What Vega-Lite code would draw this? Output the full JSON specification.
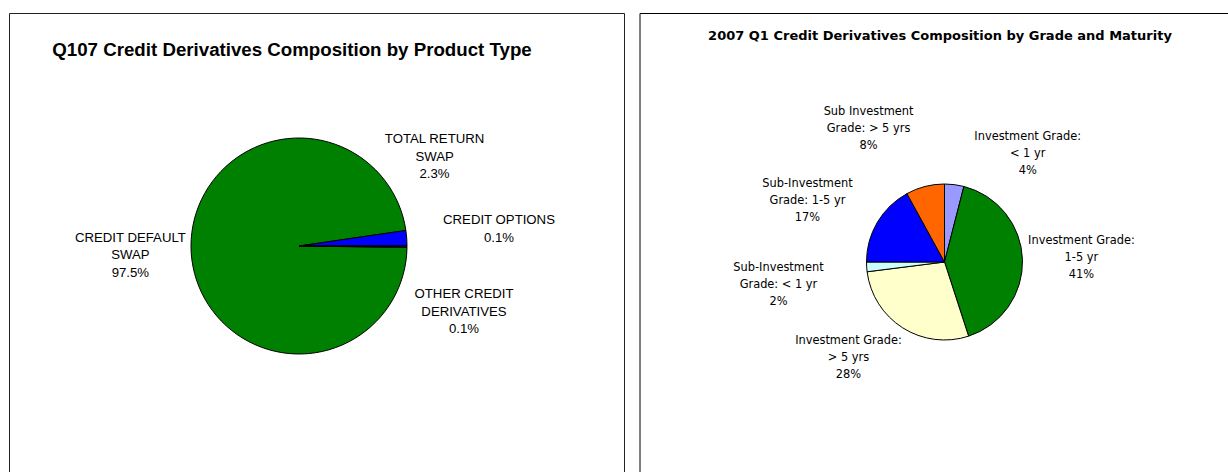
{
  "$schema": "https://vega.github.io/schema/vega-lite/v6.json",
  "background": "white",
  "padding": {"left": 8, "top": 12, "right": 0, "bottom": 0},
  "autosize": {"type": "pad"},
  "spacing": 13.5,
  "resolve": {"scale": {"color": "independent", "theta": "independent"}},
  "config": {
    "view": {"stroke": "#1a1a1a", "strokeWidth": 1},
    "title": {"color": "black"}
  },
  "hconcat": [
    {
      "width": 615,
      "height": 470,
      "view": {"stroke": "#222222", "strokeWidth": 1, "fill": "white"},
      "title": {
        "text": "Q107 Credit Derivatives Composition by Product Type",
        "font": "Liberation Sans",
        "fontWeight": "bold",
        "fontSize": 18.7,
        "anchor": "middle",
        "frame": "group",
        "baseline": "middle",
        "offset": -55.5,
        "dx": -24.5
      },
      "data": {
        "values": [
          {"idx": 1, "type": "CREDIT DEFAULT SWAP", "share": 97.5, "label": "CREDIT DEFAULT\nSWAP\n97.5%"},
          {"idx": 2, "type": "TOTAL RETURN SWAP", "share": 2.3, "label": "TOTAL RETURN\nSWAP\n2.3%"},
          {"idx": 3, "type": "CREDIT OPTIONS", "share": 0.1, "label": "CREDIT OPTIONS\n0.1%"},
          {"idx": 4, "type": "OTHER CREDIT DERIVATIVES", "share": 0.1, "label": "OTHER CREDIT\nDERIVATIVES\n0.1%"}
        ]
      },
      "encoding": {
        "theta": {"field": "share", "type": "quantitative", "stack": true, "scale": {"range": [1.5834, 7.8666]}},
        "order": {"field": "idx", "type": "quantitative"},
        "color": {
          "field": "type",
          "type": "nominal",
          "legend": null,
          "scale": {
            "domain": ["CREDIT DEFAULT SWAP", "TOTAL RETURN SWAP", "CREDIT OPTIONS", "OTHER CREDIT DERIVATIVES"],
            "range": ["#008000", "#0000ff", "#993366", "#ffffcc"]
          }
        }
      },
      "layer": [
        {
          "mark": {"type": "arc", "outerRadius": 108, "stroke": "black", "strokeWidth": 1, "x": 290, "y": 233}
        },
        {
          "mark": {
            "type": "text",
            "x": 290,
            "y": 233,
            "radius": 169,
            "dx": {"expr": "datum.idx == 2 ? -33 : datum.idx == 3 ? 31 : datum.idx == 4 ? -4 : 0"},
            "dy": {"expr": "datum.idx == 1 ? -19.5 : datum.idx == 2 ? -94.5 : datum.idx == 3 ? -26.3 : datum.idx == 4 ? 46.5 : 0"},
            "lineBreak": "\n",
            "lineHeight": 17.5,
            "font": "Liberation Sans",
            "fontSize": 13.2,
            "align": "center",
            "baseline": "middle"
          },
          "encoding": {
            "text": {"field": "label", "type": "nominal"},
            "color": {"value": "black"},
            "detail": {"field": "type", "type": "nominal"}
          }
        }
      ]
    },
    {
      "width": 610,
      "height": 470,
      "view": {"stroke": "#000000", "strokeWidth": 1, "fill": "white"},
      "title": {
        "text": "2007 Q1 Credit Derivatives Composition by Grade and Maturity",
        "font": "DejaVu Sans",
        "fontWeight": "bold",
        "fontSize": 13,
        "anchor": "middle",
        "frame": "group",
        "baseline": "middle",
        "offset": -35.5,
        "dx": -4.5
      },
      "data": {
        "values": [
          {"idx": 1, "type": "Investment Grade: < 1 yr", "share": 4, "label": "Investment Grade:\n< 1 yr\n4%"},
          {"idx": 2, "type": "Investment Grade: 1-5 yr", "share": 41, "label": "Investment Grade:\n1-5 yr\n41%"},
          {"idx": 3, "type": "Investment Grade: > 5 yrs", "share": 28, "label": "Investment Grade:\n> 5 yrs\n28%"},
          {"idx": 4, "type": "Sub-Investment Grade: < 1 yr", "share": 2, "label": "Sub-Investment\nGrade: < 1 yr\n2%"},
          {"idx": 5, "type": "Sub-Investment Grade: 1-5 yr", "share": 17, "label": "Sub-Investment\nGrade: 1-5 yr\n17%"},
          {"idx": 6, "type": "Sub Investment Grade: > 5 yrs", "share": 8, "label": "Sub Investment\nGrade: > 5 yrs\n8%"}
        ]
      },
      "encoding": {
        "theta": {"field": "share", "type": "quantitative", "stack": true, "scale": {"range": [0, 6.2832]}},
        "order": {"field": "idx", "type": "quantitative"},
        "color": {
          "field": "type",
          "type": "nominal",
          "legend": null,
          "scale": {
            "domain": ["Investment Grade: < 1 yr", "Investment Grade: 1-5 yr", "Investment Grade: > 5 yrs", "Sub-Investment Grade: < 1 yr", "Sub-Investment Grade: 1-5 yr", "Sub Investment Grade: > 5 yrs"],
            "range": ["#9999ff", "#008000", "#ffffcc", "#ccffff", "#0000ff", "#ff6600"]
          }
        }
      },
      "layer": [
        {
          "mark": {"type": "arc", "outerRadius": 78, "stroke": "black", "strokeWidth": 1, "x": 305, "y": 249}
        },
        {
          "mark": {
            "type": "text",
            "x": 305,
            "y": 249,
            "radius": 137,
            "dx": {"expr": "datum.idx == 1 ? 66 : datum.idx == 3 ? -22.6 : datum.idx == 4 ? -29.3 : datum.idx == 5 ? -19.1 : datum.idx == 6 ? -41.9 : 0"},
            "dy": {"expr": "datum.idx == 1 ? 11 : datum.idx == 2 ? -17 : datum.idx == 3 ? -36.7 : datum.idx == 4 ? -2.6 : datum.idx == 5 ? -8.3 : datum.idx == 6 ? -17.3 : 0"},
            "lineBreak": "\n",
            "lineHeight": 17,
            "font": "DejaVu Sans",
            "fontSize": 11.4,
            "align": "center",
            "baseline": "middle"
          },
          "encoding": {
            "text": {"field": "label", "type": "nominal"},
            "color": {"value": "black"},
            "detail": {"field": "type", "type": "nominal"}
          }
        }
      ]
    }
  ]
}
